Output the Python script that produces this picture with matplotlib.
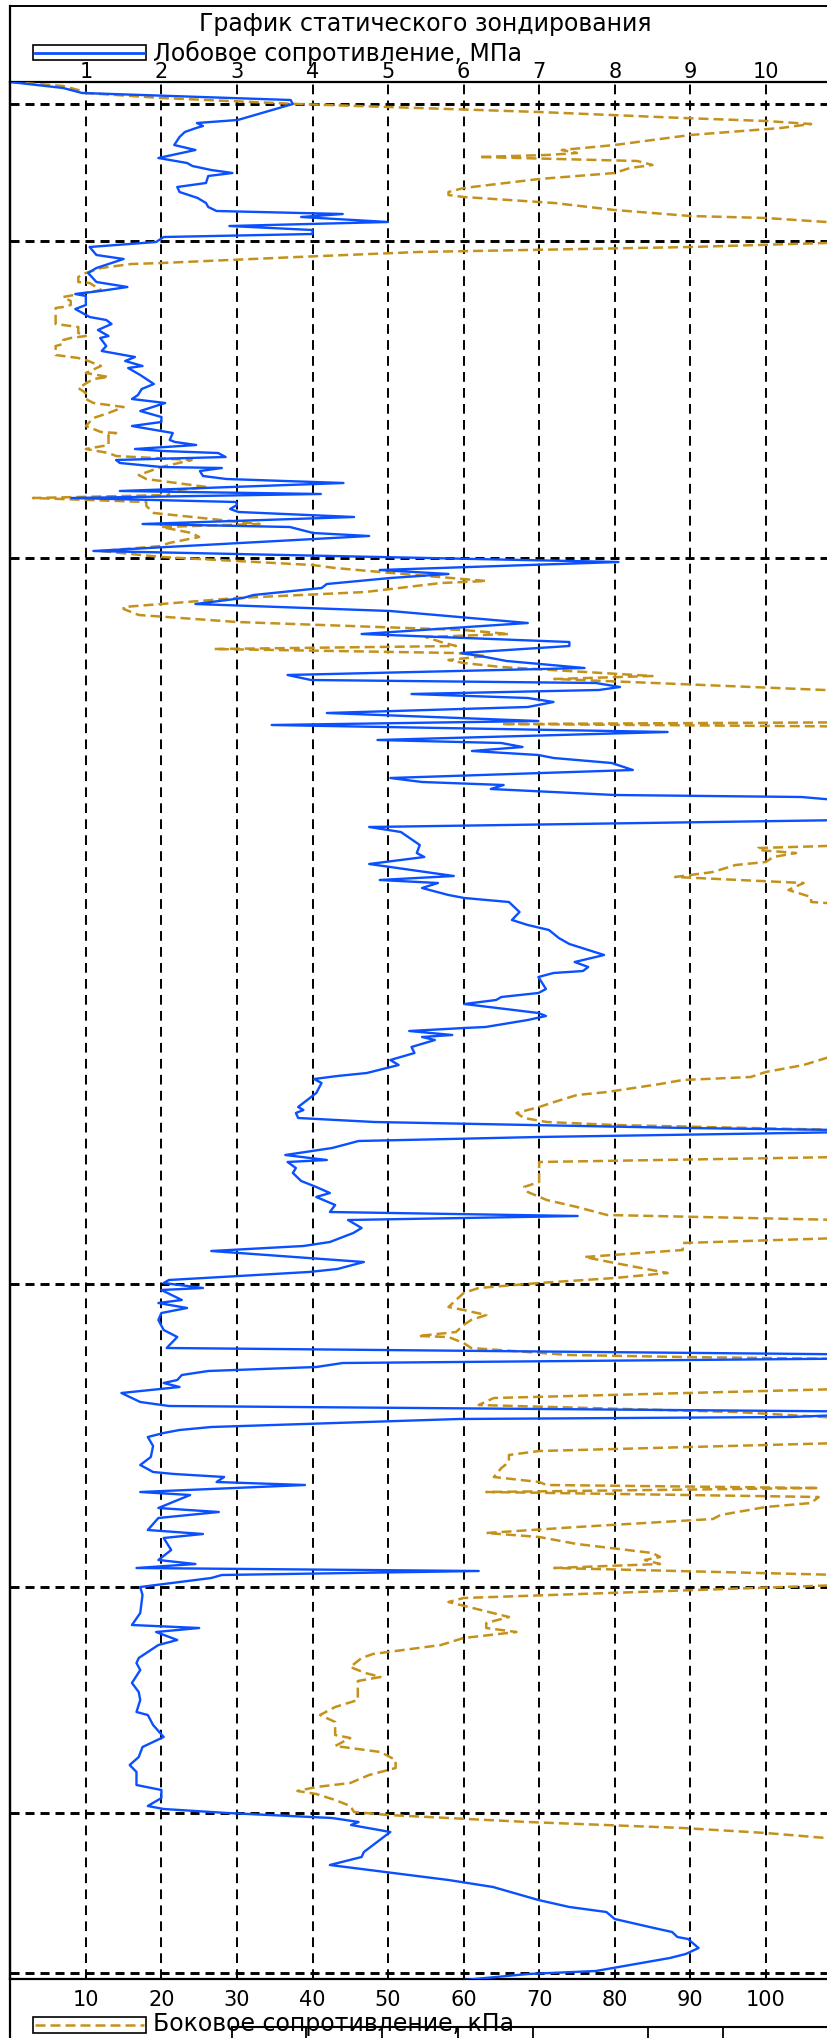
import matplotlib
matplotlib.use("Agg")
import matplotlib.pyplot as plt
from matplotlib.patches import Rectangle
from matplotlib.lines import Line2D

plt.rcParams['font.family'] = ['DejaVu Sans']
plt.rcParams['lines.scale_dashes'] = False

# ---------------- data ----------------
title = "График статического зондирования"
qc_label = "Лобовое сопротивление, МПа"
fs_label = "Боковое сопротивление, кПа"

mpa_ticks = [1, 2, 3, 4, 5, 6, 7, 8, 9, 10]
kpa_ticks = [10, 20, 30, 40, 50, 60, 70, 80, 90, 100]

layer_depths = [0.22, 1.59, 4.76, 12.02, 15.05, 17.31, 18.91]

qc_depth = [0.00, 0.06, 0.11, 0.18, 0.22, 0.38, 0.41, 0.44, 0.46, 0.50, 0.55, 0.63, 0.68, 0.76, 0.81,
            0.84, 0.88, 0.91, 0.94, 1.01, 1.05, 1.10, 1.16, 1.21, 1.25, 1.29, 1.32, 1.35, 1.40, 1.44,
            1.48, 1.52, 1.55, 1.60, 1.65, 1.73, 1.77, 1.86, 1.91, 2.00, 2.05, 2.09, 2.12, 2.14, 2.23,
            2.27, 2.35, 2.38, 2.42, 2.48, 2.54, 2.56, 2.64, 2.69, 2.73, 2.75, 2.79, 2.84, 2.86, 2.93,
            3.02, 3.07, 3.13, 3.17, 3.21, 3.29, 3.35, 3.40, 3.44, 3.51, 3.58, 3.60, 3.63, 3.67, 3.69,
            3.71, 3.75, 3.78, 3.81, 3.85, 3.86, 3.89, 3.94, 3.97, 4.01, 4.09, 4.12, 4.16, 4.20, 4.23,
            4.27, 4.30, 4.35, 4.42, 4.45, 4.51, 4.54, 4.69, 4.80, 4.88, 4.92, 4.96, 5.02, 5.06, 5.13,
            5.16, 5.22, 5.29, 5.41, 5.52, 5.60, 5.64, 5.71, 5.75, 5.79, 5.86, 5.93, 5.98, 6.01, 6.05,
            6.08, 6.12, 6.16, 6.20, 6.25, 6.31, 6.39, 6.43, 6.50, 6.58, 6.61, 6.65, 6.69, 6.73, 6.76,
            6.81, 6.88, 6.96, 7.00, 7.03, 7.07, 7.13, 7.15, 7.25, 7.37, 7.45, 7.50, 7.63, 7.71, 7.75,
            7.82, 7.94, 7.98, 8.01, 8.06, 8.13, 8.16, 8.20, 8.30, 8.38, 8.43, 8.48, 8.56, 8.62, 8.73,
            8.80, 8.85, 8.89, 8.91, 8.95, 9.07, 9.11, 9.15, 9.18, 9.22, 9.31, 9.34, 9.38, 9.45, 9.46,
            9.49, 9.53, 9.55, 9.58, 9.65, 9.71, 9.78, 9.83, 9.91, 9.94, 9.97, 10.01, 10.11, 10.21, 10.25,
            10.28, 10.31, 10.36, 10.40, 10.46, 10.49, 10.55, 10.59, 10.66, 10.73, 10.78, 10.80, 10.86, 10.91, 10.99,
            11.05, 11.11, 11.15, 11.23, 11.30, 11.34, 11.38, 11.46, 11.51, 11.60, 11.64, 11.69, 11.80, 11.87, 11.90,
            11.98, 12.01, 12.06, 12.08, 12.18, 12.21, 12.26, 12.31, 12.38, 12.48, 12.55, 12.66, 12.73, 12.76, 12.81,
            12.85, 12.89, 12.93, 12.98, 13.01, 13.05, 13.11, 13.20, 13.24, 13.30, 13.35, 13.37, 13.45, 13.48, 13.51,
            13.55, 13.64, 13.75, 13.83, 13.90, 13.92, 13.95, 14.00, 14.03, 14.10, 14.13, 14.26, 14.30, 14.36, 14.48,
            14.52, 14.56, 14.68, 14.78, 14.82, 14.86, 14.89, 14.93, 14.96, 15.05, 15.13, 15.31, 15.43, 15.46, 15.50,
            15.58, 15.63, 15.76, 15.81, 15.88, 16.01, 16.10, 16.18, 16.30, 16.33, 16.43, 16.55, 16.65, 16.75, 16.83,
            16.90, 17.03, 17.08, 17.16, 17.24, 17.27, 17.31, 17.36, 17.40, 17.43, 17.50, 17.70, 17.75, 17.83, 17.98,
            18.05, 18.18, 18.25, 18.30, 18.37, 18.46, 18.50, 18.55, 18.57, 18.66, 18.72, 18.76, 18.89, 18.92, 18.98]
qc_mpa = [0.00, 0.70, 0.95, 3.71, 3.74, 3.01, 2.47, 2.55, 2.46, 2.31, 2.24, 2.17, 2.45, 1.96, 2.34,
          2.41, 2.66, 2.94, 2.62, 2.59, 2.21, 2.24, 2.48, 2.59, 2.62, 2.73, 4.40, 3.85, 5.00, 2.90,
          4.00, 4.00, 2.03, 1.93, 1.05, 1.14, 1.50, 1.14, 1.03, 1.14, 1.55, 1.19, 0.86, 1.00, 1.00,
          0.86, 1.05, 1.27, 1.34, 1.16, 1.30, 1.19, 1.27, 1.21, 1.50, 1.65, 1.52, 1.75, 1.56, 1.72,
          1.90, 1.74, 1.69, 1.61, 2.05, 1.72, 2.00, 2.00, 1.61, 2.15, 2.11, 2.18, 2.46, 1.65, 2.02,
          2.75, 2.85, 1.40, 1.45, 2.00, 2.80, 2.51, 2.55, 2.86, 4.41, 1.45, 4.11, 0.81, 2.99, 3.00,
          2.91, 3.02, 4.55, 1.75, 3.70, 4.01, 4.75, 1.10, 8.05, 4.89, 5.80, 5.03, 4.19, 4.12, 3.22,
          3.08, 2.45, 5.03, 6.85, 4.65, 7.40, 7.40, 5.97, 6.29, 6.57, 7.60, 3.67, 3.98, 7.75, 8.07,
          7.79, 5.31, 6.85, 7.19, 6.85, 4.19, 6.99, 3.46, 8.70, 4.86, 6.50, 6.78, 6.11, 6.99, 7.19,
          7.96, 8.24, 5.03, 5.45, 6.53, 6.36, 8.00, 10.47, 12.0, 12.0, 4.75, 5.17, 5.42, 5.38, 5.48,
          4.75, 5.87, 4.89, 5.66, 5.45, 5.80, 6.01, 6.60, 6.74, 6.64, 6.85, 7.13, 7.26, 7.40, 7.86,
          7.47, 7.65, 7.58, 7.19, 6.99, 7.09, 6.99, 6.50, 6.43, 6.01, 6.99, 7.09, 6.85, 6.29, 6.01,
          5.28, 5.85, 5.45, 5.62, 5.31, 5.35, 5.03, 5.14, 4.72, 4.33, 4.02, 4.12, 4.05, 3.88, 3.81,
          3.88, 3.78, 3.81, 4.82, 8.94, 12.0, 6.99, 4.61, 4.26, 3.64, 4.19, 3.67, 3.78, 3.74, 3.85,
          4.05, 4.23, 4.05, 4.30, 4.23, 7.51, 4.47, 4.65, 4.54, 4.23, 3.88, 2.66, 4.68, 4.33, 3.95,
          2.10, 2.03, 2.55, 2.00, 2.27, 1.96, 2.34, 2.00, 1.96, 2.03, 2.21, 2.07, 12.0, 12.0, 4.40,
          4.05, 2.62, 2.27, 2.21, 2.03, 2.24, 1.47, 1.72, 2.10, 12.0, 10.33, 5.94, 2.66, 2.24, 2.03,
          1.82, 1.89, 1.86, 1.72, 1.89, 2.17, 2.83, 2.73, 3.90, 1.72, 2.38, 1.96, 2.76, 1.96, 1.82,
          2.55, 2.03, 2.13, 1.96, 2.45, 1.67, 6.20, 2.80, 2.66, 1.72, 1.75, 1.72, 1.61, 2.50, 1.93,
          2.21, 1.96, 1.70, 1.67, 1.72, 1.61, 1.70, 1.72, 1.67, 1.82, 1.89, 2.03, 1.75, 1.70, 1.58,
          1.67, 1.67, 2.00, 2.00, 1.82, 2.03, 2.87, 4.26, 4.61, 4.51, 5.03, 4.68, 4.65, 4.23, 5.80,
          6.39, 6.99, 7.40, 7.89, 8.00, 8.52, 8.76, 8.83, 8.97, 9.11, 8.94, 8.73, 7.75, 6.85, 6.01]

fs_depth = [0.00, 0.04, 0.08, 0.11, 0.16, 0.22, 0.30, 0.36, 0.39, 0.42, 0.46, 0.53, 0.63, 0.68, 0.71,
            0.73, 0.75, 0.79, 0.83, 0.86, 0.91, 0.97, 1.06, 1.10, 1.13, 1.15, 1.21, 1.28, 1.34, 1.36,
            1.40, 1.47, 1.55, 1.61, 1.65, 1.70, 1.75, 1.81, 1.82, 1.86, 1.91, 1.95, 2.00, 2.01, 2.08,
            2.15, 2.19, 2.23, 2.25, 2.26, 2.42, 2.45, 2.51, 2.54, 2.56, 2.58, 2.62, 2.64, 2.73, 2.76,
            2.78, 2.84, 2.91, 2.95, 2.97, 3.06, 3.11, 3.17, 3.21, 3.25, 3.31, 3.36, 3.44, 3.50, 3.51,
            3.53, 3.63, 3.67, 3.71, 3.74, 3.78, 3.85, 3.93, 3.97, 4.05, 4.09, 4.13, 4.16, 4.20, 4.24,
            4.31, 4.42, 4.45, 4.51, 4.55, 4.61, 4.64, 4.69, 4.75, 4.79, 4.83, 4.86, 4.90, 4.99, 5.01,
            5.10, 5.16, 5.25, 5.27, 5.33, 5.40, 5.48, 5.52, 5.55, 5.60, 5.64, 5.67, 5.71, 5.74, 5.78,
            5.81, 5.85, 5.94, 5.97, 6.00, 6.08, 6.20, 6.40, 6.42, 6.45, 7.00, 7.64, 7.66, 7.68, 7.71,
            7.75, 7.80, 7.83, 7.90, 7.95, 8.01, 8.08, 8.15, 8.20, 8.22, 9.00, 9.76, 9.83, 9.90, 9.95,
            9.98, 10.02, 10.10, 10.13, 10.20, 10.25, 10.31, 10.36, 10.40, 10.43, 10.48, 10.60, 10.75, 10.80, 11.00,
            11.05, 11.10, 11.18, 11.25, 11.33, 11.38, 11.47, 11.56, 11.61, 11.68, 11.75, 11.81, 11.91, 11.96, 12.01,
            12.06, 12.11, 12.18, 12.25, 12.28, 12.33, 12.38, 12.43, 12.50, 12.54, 12.55, 12.61, 12.66, 12.73, 12.75,
            12.77, 12.90, 13.07, 13.16, 13.23, 13.30, 13.36, 13.50, 13.61, 13.69, 13.73, 13.80, 13.86, 13.95, 14.00,
            14.03, 14.06, 14.10, 14.15, 14.21, 14.25, 14.33, 14.37, 14.45, 14.51, 14.55, 14.62, 14.71, 14.75, 14.78,
            14.82, 14.86, 14.93, 15.00, 15.03, 15.16, 15.20, 15.35, 15.41, 15.46, 15.50, 15.56, 15.63, 15.70, 15.72,
            15.76, 15.85, 15.91, 15.95, 15.99, 16.18, 16.25, 16.33, 16.40, 16.53, 16.56, 16.60, 16.64, 16.70, 16.78,
            16.86, 16.93, 17.01, 17.05, 17.09, 17.12, 17.18, 17.24, 17.30, 17.33, 17.40, 17.46, 17.51, 17.56, 17.80,
            19.00]
fs_kpa = [0, 7, 9, 10, 20, 38, 70, 89, 100, 106, 102, 90, 80, 73, 75,
          71, 62, 83, 85, 82, 80, 70, 60, 58, 58, 60, 72, 80, 90, 100,
          108, 125, 125, 108, 90, 54, 38, 20, 16, 12, 10, 9, 9, 10.5, 12,
          7, 8, 8, 7, 6, 6, 9, 9, 10, 8, 7, 7, 6, 6, 9,
          10, 12, 10, 13, 11, 9, 10, 10, 11, 15, 13, 11, 10, 12, 14,
          13, 13, 10, 13, 14, 24, 20, 17, 18, 26, 21, 21, 3, 18, 18,
          19, 33, 20, 24, 25, 21, 20, 12, 20, 30, 40, 43, 49, 63, 57,
          47, 30, 15, 15, 17, 30, 60, 66, 55, 57, 59, 27, 59, 63, 58,
          60, 65, 85, 72, 82, 108, 130, 120, 65, 120, 140, 108, 99, 99, 104,
          101, 100, 96, 93, 88, 105, 103, 106, 106, 110, 140, 108, 105, 100, 98,
          89, 86, 79, 75, 72, 70, 67, 68, 71, 80, 110, 130, 110, 70, 70,
          68, 68.5, 71, 75, 79, 110, 120, 110, 89, 89, 76, 80, 87, 80, 70,
          62, 60, 59, 58, 60, 63, 61, 60, 59, 54, 58, 60, 61, 74, 89,
          110, 130, 110, 64, 62, 96, 110, 130, 110, 70, 66, 66, 65, 64, 70,
          71, 107, 63, 107, 106, 100, 94, 93, 75, 63, 70, 75, 85, 86, 84,
          86, 72, 110, 125, 110, 60, 58, 66, 63, 63, 67, 60, 57, 50, 48,
          46.5, 45, 47, 49, 46, 46, 43, 41, 43, 43, 45, 44, 43, 49, 51,
          51, 47.5, 45, 40.5, 38, 40.5, 43, 45, 45.5, 50, 68.5, 89, 100, 108, 140,
          150]

# ---------------- figure ----------------
W, H = 827, 2038
fig = plt.figure(figsize=(W / 100, H / 100), dpi=100)

def fx(px):
    return px / W

def fy(py):
    return 1 - py / H

x0, top, bot = 10.3, 82, 1979
px_per_mpa = 75.55
ax = fig.add_axes([fx(x0), fy(bot), fx(W - x0), (bot - top) / H])
ax.set_xlim(0, (W - x0) / px_per_mpa)
ax.set_ylim((bot - top) / 100.0, 0)

blue = '#0A50FF'
gold = '#C4921C'

ax.plot([v / 10.0 for v in fs_kpa], fs_depth, color=gold, lw=1.8,
        linestyle=(0, (7.2, 3.6)), zorder=3)
ax.plot(qc_mpa, qc_depth, color=blue, lw=1.7, zorder=4)

for d in layer_depths:
    ax.axhline(d, color='black', lw=2.1, linestyle=(0, (6.5, 4.3)), zorder=2)

ax.set_xticks(mpa_ticks)
ax.set_xticklabels([str(t) for t in mpa_ticks])
ax.set_yticks([])
ax.grid(axis='x', color='black', lw=1.4, linestyle=(0, (7.0, 4.5)), zorder=1)
ax.tick_params(axis='x', top=True, bottom=False, labeltop=True, labelbottom=False,
               length=0, pad=0, labelsize=15)
ax.spines['right'].set_visible(False)
for s in ['top', 'bottom', 'left']:
    ax.spines[s].set_linewidth(1.6)

sec = ax.secondary_xaxis('bottom', functions=(lambda x: x * 10.0, lambda x: x / 10.0))
sec.set_xticks(kpa_ticks)
sec.set_xticklabels([str(t) for t in kpa_ticks])
sec.tick_params(length=0, pad=8, labelsize=15)
sec.spines['bottom'].set_visible(False)

# title and legends
fig.text(fx(425), fy(24), title, ha='center', va='center', fontsize=17)

fig.add_artist(Rectangle((fx(33), fy(60)), fx(113), 15 / H, transform=fig.transFigure,
                         fill=False, ec='black', lw=1.2))
fig.add_artist(Line2D([fx(35), fx(144)], [fy(52.5), fy(52.5)], transform=fig.transFigure,
                      color=blue, lw=2))
fig.text(fx(153), fy(53), qc_label, ha='left', va='center', fontsize=17)

fig.add_artist(Rectangle((fx(33), fy(2033)), fx(113), 16 / H, transform=fig.transFigure,
                         fill=False, ec='black', lw=1.2))
fig.add_artist(Line2D([fx(35), fx(144)], [fy(2025), fy(2025)], transform=fig.transFigure,
                      color=gold, lw=1.8, linestyle=(0, (7.2, 3.6))))
fig.text(fx(153), fy(2024), fs_label, ha='left', va='center', fontsize=17)

# outer frame and table lines
fig.add_artist(Line2D([fx(x0), fx(x0)], [fy(6), 0], transform=fig.transFigure, color='black', lw=1.6))
fig.add_artist(Line2D([fx(x0), 1], [fy(6), fy(6)], transform=fig.transFigure, color='black', lw=1.4))
fig.add_artist(Line2D([fx(232), 1], [fy(2027), fy(2027)], transform=fig.transFigure, color='black', lw=1.5))
for tx in [232, 306, 382, 458, 533, 648, 723]:
    fig.add_artist(Line2D([fx(tx), fx(tx)], [fy(2027), 0], transform=fig.transFigure,
                          color='black', lw=1.3))

fig.savefig('out.png', dpi=100)
